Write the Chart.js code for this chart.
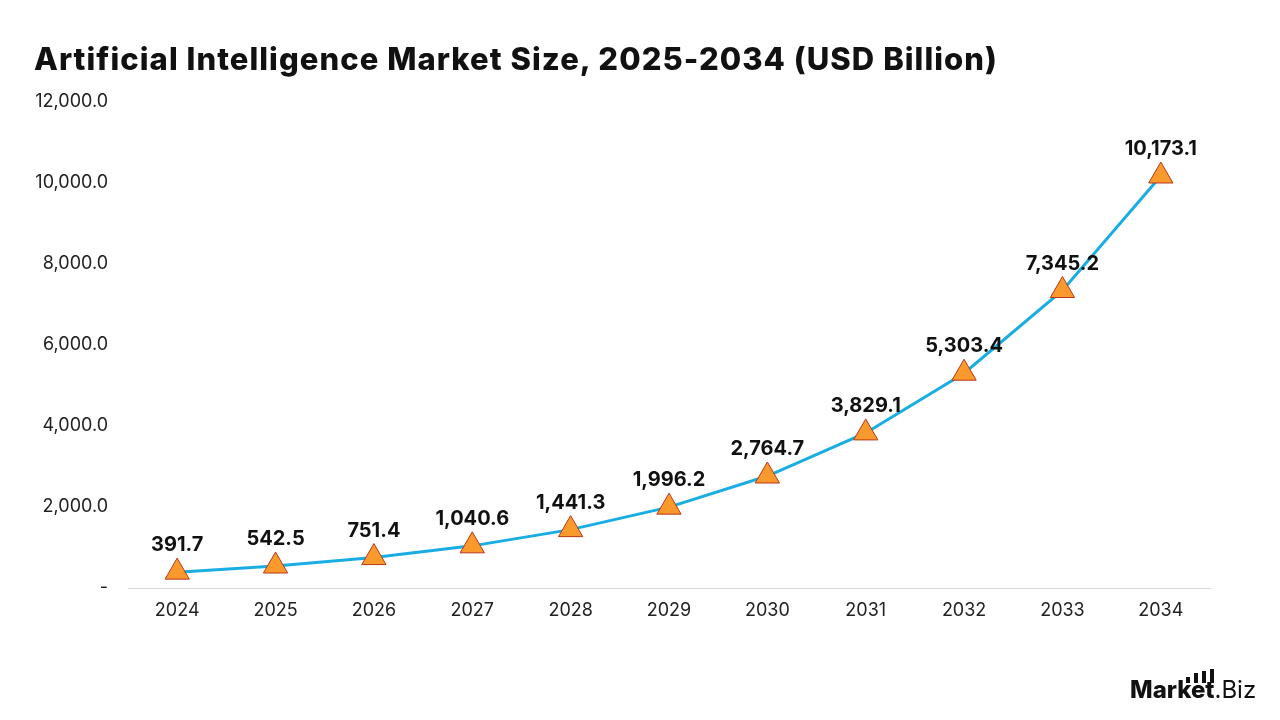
<!DOCTYPE html>
<html>
<head>
<meta charset="utf-8">
<script src="https://cdn.jsdelivr.net/npm/chart.js@4"></script>
<style>
  body { margin: 0; background: #fff; font-family: "Inter", "Noto Sans", sans-serif; }
  #wrap { position: relative; width: 1280px; height: 720px; }
  #chart { position: absolute; left: 0; top: 0; }
  h1 { position: absolute; left: 34px; top: 40px; margin: 0; font-size: 31px; font-weight: 800; color: #111; letter-spacing: 1.05px; }
  .logo { position: absolute; left: 1130px; top: 675px; font-size: 24px; color: #111; }
  .logo b { font-weight: 800; }
  .bar { position: absolute; width: 4px; background: #111; }
</style>
</head>
<body>
<div id="wrap">
  <canvas id="chart" width="1280" height="720"></canvas>
  <h1>Artificial Intelligence Market Size, 2025-2034 (USD Billion)</h1>
  <div class="bar" style="left:1186px; top:677px; height:6px"></div>
  <div class="bar" style="left:1194px; top:673px; height:10px"></div>
  <div class="bar" style="left:1202px; top:671px; height:12px"></div>
  <div class="bar" style="left:1210px; top:669px; height:14px"></div>
  <div class="logo"><b>Market</b>.Biz</div>
</div>
<script>
const years = ["2024", "2025", "2026", "2027", "2028", "2029", "2030", "2031", "2032", "2033", "2034"];
const marketSize = [391.7, 542.5, 751.4, 1040.6, 1441.3, 1996.2, 2764.7, 3829.1, 5303.4, 7345.2, 10173.1];
const yTicks = [0, 2000, 4000, 6000, 8000, 10000, 12000];

const fmt = v => v.toLocaleString("en-US", { minimumFractionDigits: 1, maximumFractionDigits: 1 });

// value labels above each point
const valueLabels = {
  id: "valueLabels",
  afterDatasetsDraw(c) {
    const ctx = c.ctx;
    const meta = c.getDatasetMeta(0);
    ctx.save();
    ctx.font = "bold 20px Inter, 'Noto Sans', sans-serif";
    ctx.fillStyle = "#111";
    ctx.textAlign = "center";
    ctx.textBaseline = "alphabetic";
    meta.data.forEach((pt, i) => {
      ctx.fillText(fmt(marketSize[i]), pt.x, pt.y - 21);
    });
    ctx.restore();
  }
};

new Chart(document.getElementById("chart"), {
  type: "line",
  data: {
    labels: years,
    datasets: [{
      data: marketSize,
      borderColor: "#1AADE4",
      borderWidth: 3,
      tension: 0,
      pointStyle: "triangle",
      pointRadius: 14,
      pointHoverRadius: 14,
      pointBackgroundColor: "#FA9A2C",
      pointBorderColor: "#B8371A",
      pointBorderWidth: 1
    }]
  },
  options: {
    responsive: false,
    animation: false,
    layout: { padding: { left: 0, right: 70, top: 102, bottom: 92 } },
    plugins: { legend: { display: false }, tooltip: { enabled: false } },
    scales: {
      x: {
        offset: true,
        grid: { display: false, offset: true },
        border: { display: true, color: "#d9d9d9", width: 1 },
        ticks: { color: "#222", font: { size: 18, family: "Inter, 'Noto Sans', sans-serif" }, padding: 4 },
        afterFit: s => { s.height = 40; }
      },
      y: {
        min: 0,
        max: 12000,
        grid: { display: false },
        border: { display: false },
        afterBuildTicks: s => { s.ticks = yTicks.map(v => ({ value: v })); },
        ticks: {
          color: "#222",
          padding: 12,
          font: { size: 18, family: "Inter, 'Noto Sans', sans-serif" },
          callback: v => v === 0 ? "-" : fmt(v)
        },
        afterFit: s => { s.width = 128; }
      }
    }
  },
  plugins: [valueLabels]
});
</script>
</body>
</html>
